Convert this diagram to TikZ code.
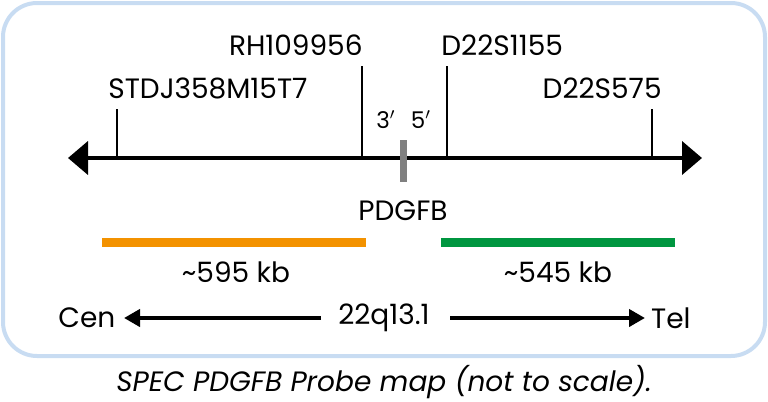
\documentclass[tikz,border=0pt]{standalone}
\usepackage{fontspec}
\setmainfont{Poppins}
\usetikzlibrary{positioning,arrows.meta}
\definecolor{frameblue}{RGB}{200,220,242}
\definecolor{probeorange}{RGB}{243,146,0}
\definecolor{probegreen}{RGB}{0,150,64}
\definecolor{genegrey}{RGB}{128,128,128}
\tikzset{
	mylabel/.style={draw=none,inner sep=0pt,font=\fontsize{14}{16}\selectfont},
	mysmall/.style={draw=none,inner sep=0pt,font=\fontsize{11.5}{13}\selectfont},
	mytick/.style={line width=1pt},
	myaxis/.style={{Triangle[length=10pt,width=16.5pt]}-{Triangle[length=10pt,width=16.5pt]},line width=2pt},
	myarrow/.style={-{Triangle[length=8pt,width=8.5pt]},line width=2pt},
	myprobe/.style={line width=4.5pt}
}
\begin{document}
\begin{tikzpicture}[x=0.5pt,y=-0.5pt]
	\useasboundingbox (0,0) rectangle (768,402);
	\draw[frameblue,line width=2pt,rounded corners=17pt] (3,3) rectangle (765,356);

	% chromosome axis
	\coordinate (axl) at (68,158);
	\coordinate (axr) at (702,158);
	\draw[myaxis] (axl) -- (axr);

	% markers
	\node[mylabel,anchor=base west](stdj) at (108,98){STDJ358M15T7};
	\coordinate (stdjtop) at (117,109);
	\coordinate (stdjbot) at (117,158);
	\draw[mytick] (stdjtop) -- (stdjbot);
	\node[mylabel,anchor=base east](rh) at (363,55){RH109956};
	\coordinate (rhtop) at (362,66);
	\coordinate (rhbot) at (362,158);
	\draw[mytick] (rhtop) -- (rhbot);
	\node[mylabel,anchor=base west](dtwo) at (441,55){D22S1155};
	\coordinate (dtwotop) at (447,66);
	\coordinate (dtwobot) at (447,158);
	\draw[mytick] (dtwotop) -- (dtwobot);
	\node[mylabel,anchor=base east](dfive) at (662,98){D22S575};
	\coordinate (dfivetop) at (652,109);
	\coordinate (dfivebot) at (652,158);
	\draw[mytick] (dfivetop) -- (dfivebot);

	% gene
	\node[fill=genegrey,inner sep=0pt,minimum width=3.5pt,minimum height=21pt](gene) at (403,161){};
	\node[mysmall,anchor=base](three) at (386,128){3$'$};
	\node[mysmall,anchor=base](five) at (421,128){5$'$};
	\node[mylabel,below = 9pt of gene](pdgfb){PDGFB};

	% probes
	\coordinate (orl) at (102,242);
	\coordinate (orr) at (366,242);
	\draw[probeorange,myprobe] (orl) -- (orr);
	\node[mylabel](kbleft) at (236,272){\textasciitilde595 kb};
	\coordinate (grl) at (441,242);
	\coordinate (grr) at (675,242);
	\draw[probegreen,myprobe] (grl) -- (grr);
	\node[mylabel](kbright) at (558,272){\textasciitilde545 kb};

	% orientation
	\node[mylabel](band) at (384,318){22q13.1};
	\node[mylabel,anchor=west](cen) at (58,318){Cen};
	\node[mylabel,anchor=east](tel) at (691,318){Tel};
	\coordinate (bandl) at (321,318);
	\coordinate (cenend) at (124,318);
	\coordinate (bandr) at (450,318);
	\coordinate (telend) at (645,318);
	\draw[myarrow] (bandl) -- (cenend);
	\draw[myarrow] (bandr) -- (telend);

	\node[mylabel,font=\fontsize{14}{16}\selectfont\itshape](caption) at (384,382){SPEC PDGFB Probe map (not to scale).};
\end{tikzpicture}
\end{document}
